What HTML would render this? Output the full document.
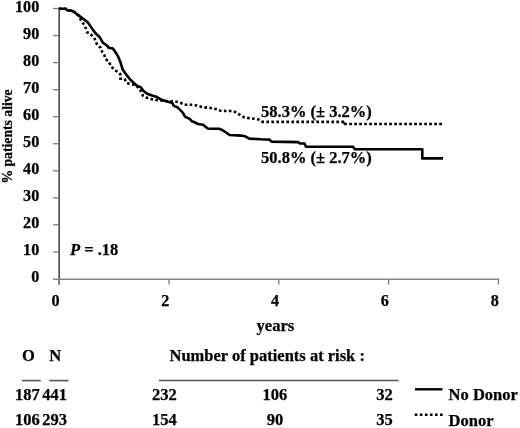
<!DOCTYPE html>
<html><head><meta charset="utf-8"><style>
html,body{margin:0;padding:0;background:#fff;}
svg{display:block;will-change:transform;}
text{font-family:"Liberation Serif",serif;font-weight:bold;fill:#000;stroke:#000;stroke-width:0.25px;}
.t{font-size:16.2px;}
.a{font-size:16.5px;}
.ylab{font-size:13.7px;}
</style></head><body>
<svg width="520" height="428" viewBox="0 0 520 428">
<line x1="59.17" y1="7.7" x2="59.17" y2="284.6" stroke="#505050" stroke-width="1.66"/>
<line x1="53" y1="279.2" x2="499.20" y2="279.2" stroke="#858585" stroke-width="1.6"/>
<text x="39.3" y="282.20" text-anchor="end" class="t">0</text>
<line x1="53" y1="251.95" x2="59.2" y2="251.95" stroke="#777" stroke-width="1.25"/>
<text x="39.3" y="255.15" text-anchor="end" class="t">10</text>
<line x1="53" y1="224.90" x2="59.2" y2="224.90" stroke="#777" stroke-width="1.25"/>
<text x="39.3" y="228.10" text-anchor="end" class="t">20</text>
<line x1="53" y1="197.85" x2="59.2" y2="197.85" stroke="#777" stroke-width="1.25"/>
<text x="39.3" y="201.05" text-anchor="end" class="t">30</text>
<line x1="53" y1="170.80" x2="59.2" y2="170.80" stroke="#777" stroke-width="1.25"/>
<text x="39.3" y="174.00" text-anchor="end" class="t">40</text>
<line x1="53" y1="143.75" x2="59.2" y2="143.75" stroke="#777" stroke-width="1.25"/>
<text x="39.3" y="146.95" text-anchor="end" class="t">50</text>
<line x1="53" y1="116.70" x2="59.2" y2="116.70" stroke="#777" stroke-width="1.25"/>
<text x="39.3" y="119.90" text-anchor="end" class="t">60</text>
<line x1="53" y1="89.65" x2="59.2" y2="89.65" stroke="#777" stroke-width="1.25"/>
<text x="39.3" y="92.85" text-anchor="end" class="t">70</text>
<line x1="53" y1="62.60" x2="59.2" y2="62.60" stroke="#777" stroke-width="1.25"/>
<text x="39.3" y="65.80" text-anchor="end" class="t">80</text>
<line x1="53" y1="35.55" x2="59.2" y2="35.55" stroke="#777" stroke-width="1.25"/>
<text x="39.3" y="38.75" text-anchor="end" class="t">90</text>
<line x1="53" y1="8.50" x2="59.2" y2="8.50" stroke="#777" stroke-width="1.25"/>
<text x="39.3" y="11.70" text-anchor="end" class="t">100</text>
<line x1="59.20" y1="279.0" x2="59.20" y2="284.6" stroke="#777" stroke-width="1.25"/>
<text x="55.50" y="306.1" text-anchor="middle" class="t">0</text>
<line x1="169.00" y1="279.0" x2="169.00" y2="284.6" stroke="#777" stroke-width="1.25"/>
<text x="165.30" y="306.1" text-anchor="middle" class="t">2</text>
<line x1="278.80" y1="279.0" x2="278.80" y2="284.6" stroke="#777" stroke-width="1.25"/>
<text x="275.10" y="306.1" text-anchor="middle" class="t">4</text>
<line x1="388.60" y1="279.0" x2="388.60" y2="284.6" stroke="#777" stroke-width="1.25"/>
<text x="384.90" y="306.1" text-anchor="middle" class="t">6</text>
<line x1="498.40" y1="279.0" x2="498.40" y2="284.6" stroke="#777" stroke-width="1.25"/>
<text x="494.70" y="306.1" text-anchor="middle" class="t">8</text>
<polyline points="58.9,8.7 65.6,8.7 67.6,10.5 71,10.5 74.5,12.2 78.5,15.4 80,18.5 84.3,25 85.7,28.1 87.1,32.3 90.2,33.7 93,36.5 94.8,39 96.1,42.7 98.4,46.4 100.7,47.6 102.1,51.8 104.2,54.6 105.3,58.8 108.1,60.9 109.8,63.7 111,66.3 115.2,70.5 116.9,71.3 120.3,74.1 120.3,78.5 124.6,79 126.5,82.8 130,84.2 134.2,84.7 137,86.2 140.5,90.5 143,95.8 146.3,97.5 150.3,98.9 154.6,99.9 160,100.5 165,101 172,101.3 176.7,101.8 180.6,102.8 184.4,104.7 193.6,104.7 198,106 203.6,107.3 210.7,108 217.7,109.4 220.5,110.8 233.4,111.1 237.6,113.2 240.4,115.3 244.6,117.4 248.8,118.1 254.4,118.8 258.6,119.5 261.35,121.6" fill="none" stroke="#000" stroke-width="2.6" stroke-dasharray="2.6 2.4"/>
<line x1="261.35" y1="121.85" x2="344" y2="121.85" stroke="#000" stroke-width="2.7" stroke-dasharray="2.7 2.3"/>
<line x1="343.6" y1="122.3" x2="344.8" y2="124" stroke="#000" stroke-width="2"/>
<line x1="344.2" y1="124.0" x2="443" y2="124.0" stroke="#000" stroke-width="2.7" stroke-dasharray="2.7 2.3"/>
<polyline points="58.9,8.7 65.6,8.7 67.6,10.5 71,10.5 74.5,12.2 78.5,15.4 82.5,18.3 87.7,22.2 90.5,26.2 93.3,30.4 96.1,33.9 98.9,36.2 100.5,38.5 102.8,42.7 105.6,44.5 107.7,46.2 108.4,47.6 110.5,48.3 112.6,48.3 114,50 116.1,53.2 118.2,56.7 120,60.9 122.7,69.5 126.5,74.9 130.4,79.8 134.2,83.2 137.1,86 140.5,87 143.8,91.3 147.9,94.1 152.7,95.8 156.5,96.8 160.4,99.2 165.2,101 169,101.9 172.4,102.9 173.2,104.9 175,106.4 177.5,107.3 179.3,109.1 181.1,110.9 182.9,112.8 184.2,115.2 185.4,117 187.8,117.9 190.2,119.4 192,121.3 195.1,122.5 198,124 203,124.7 207.7,128.5 210.7,128.8 219.1,128.8 222.7,130.3 226.1,132.5 229.6,135 241.1,135.6 245.8,136.6 249.2,138.6 261,139.3 269.5,139.6 271.5,141.6 283.9,141.9 298.2,142.1 299.6,143.4 304.5,143.5 306,146.8 353.2,146.8 354.6,149.2 422.3,149.3 422.3,158.4 443,158.4" fill="none" stroke="#000" stroke-width="2.6" stroke-linejoin="round"/>
<text x="12.2" y="183.6" transform="rotate(-90 12.2 183.6)" class="ylab">% patients alive</text>
<text x="261" y="117" class="a">58.3% (± 3.2%)</text>
<text x="261" y="162.6" class="a">50.8% (± 2.7%)</text>
<text x="70" y="254.7" class="a"><tspan font-style="italic">P</tspan> = .18</text>
<text x="275.4" y="330.7" text-anchor="middle" class="a">years</text>
<text x="28.3" y="361.3" text-anchor="middle" class="a">O</text>
<text x="55.2" y="361.3" text-anchor="middle" class="a">N</text>
<text x="169.5" y="360.9" class="a">Number of patients at risk :</text>
<line x1="22" y1="380.6" x2="40.8" y2="380.6" stroke="#555" stroke-width="1.6"/>
<line x1="49.2" y1="380.6" x2="68.5" y2="380.6" stroke="#555" stroke-width="1.6"/>
<line x1="159" y1="380.5" x2="398.6" y2="380.5" stroke="#555" stroke-width="1.3"/>
<text x="39.8" y="399.6" text-anchor="end" class="a">187</text>
<text x="42.2" y="399.6" class="a">441</text>
<text x="164.3" y="399.6" text-anchor="middle" class="a">232</text>
<text x="274.9" y="399.6" text-anchor="middle" class="a">106</text>
<text x="384.4" y="399.6" text-anchor="middle" class="a">32</text>
<text x="39.8" y="425.2" text-anchor="end" class="a">106</text>
<text x="42.2" y="425.2" class="a">293</text>
<text x="164.3" y="425.2" text-anchor="middle" class="a">154</text>
<text x="274.9" y="425.2" text-anchor="middle" class="a">90</text>
<text x="384.4" y="425.2" text-anchor="middle" class="a">35</text>
<line x1="415" y1="389.3" x2="442.5" y2="389.3" stroke="#000" stroke-width="2.4"/>
<line x1="414.8" y1="414.8" x2="443" y2="414.8" stroke="#000" stroke-width="2.5" stroke-dasharray="2.6 2.45"/>
<text x="448.6" y="400.3" class="a">No Donor</text>
<text x="448.6" y="425.7" class="a">Donor</text>
</svg>
</body></html>
